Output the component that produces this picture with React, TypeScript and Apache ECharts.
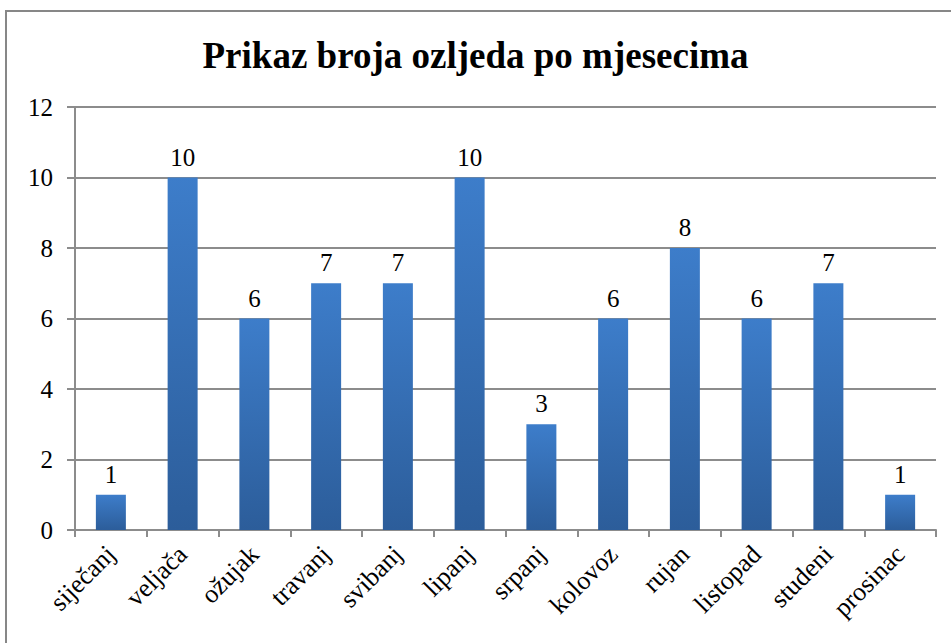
import React, { useEffect, useRef } from "react";
import * as echarts from "echarts";

const categories = ["siječanj", "veljača", "ožujak", "travanj", "svibanj", "lipanj", "srpanj", "kolovoz", "rujan", "listopad", "studeni", "prosinac"];
const values = [1, 10, 6, 7, 7, 10, 3, 6, 8, 6, 7, 1];
const titleText = "Prikaz broja ozljeda po mjesecima";

export default function App() {
  const ref = useRef<HTMLDivElement>(null);
  useEffect(() => {
    const chart = echarts.init(ref.current!, null, { renderer: "svg" });
    const font = "Liberation Serif";
    chart.setOption({
      animation: false,
      backgroundColor: "#ffffff",
      title: {
        text: titleText,
        left: "center",
        top: 32,
        textStyle: { fontFamily: font, fontWeight: "bold", fontSize: 37, color: "#000" },
      },
      graphic: [
        {
          type: "rect",
          shape: { x: 6, y: 11, width: 960, height: 660 },
          style: { fill: "none", stroke: "#878787", lineWidth: 2 },
          silent: true,
        },
      ],
      grid: { left: 75, right: 15, top: 107, bottom: 113, containLabel: false },
      xAxis: {
        type: "category",
        data: categories,
        axisLine: { lineStyle: { color: "#8c8c8c", width: 2 } },
        axisTick: { show: true, length: 7, lineStyle: { color: "#8c8c8c", width: 2 } },
        axisLabel: { rotate: 45, fontFamily: font, fontSize: 26, color: "#000", margin: 20 },
      },
      yAxis: {
        type: "value",
        min: 0,
        max: 12,
        interval: 2,
        axisLine: { show: true, lineStyle: { color: "#8c8c8c", width: 2 } },
        axisTick: { show: true, length: 8, lineStyle: { color: "#8c8c8c", width: 2 } },
        axisLabel: { fontFamily: font, fontSize: 25, color: "#000", margin: 22 },
        splitLine: { lineStyle: { color: "#8c8c8c", width: 2 } },
      },
      series: [
        {
          type: "bar",
          data: values,
          barWidth: 30,
          itemStyle: {
            color: new echarts.graphic.LinearGradient(0, 0, 0, 1, [
              { offset: 0, color: "#3d7dca" },
              { offset: 1, color: "#2c5d9a" },
            ]),
          },
          label: { show: true, position: "top", distance: 8, fontFamily: font, fontSize: 25, color: "#000" },
        },
      ],
    });
    return () => chart.dispose();
  }, []);
  return <div ref={ref} style={{ position: "fixed", left: 0, top: 0, width: 951, height: 643 }} />;
}
